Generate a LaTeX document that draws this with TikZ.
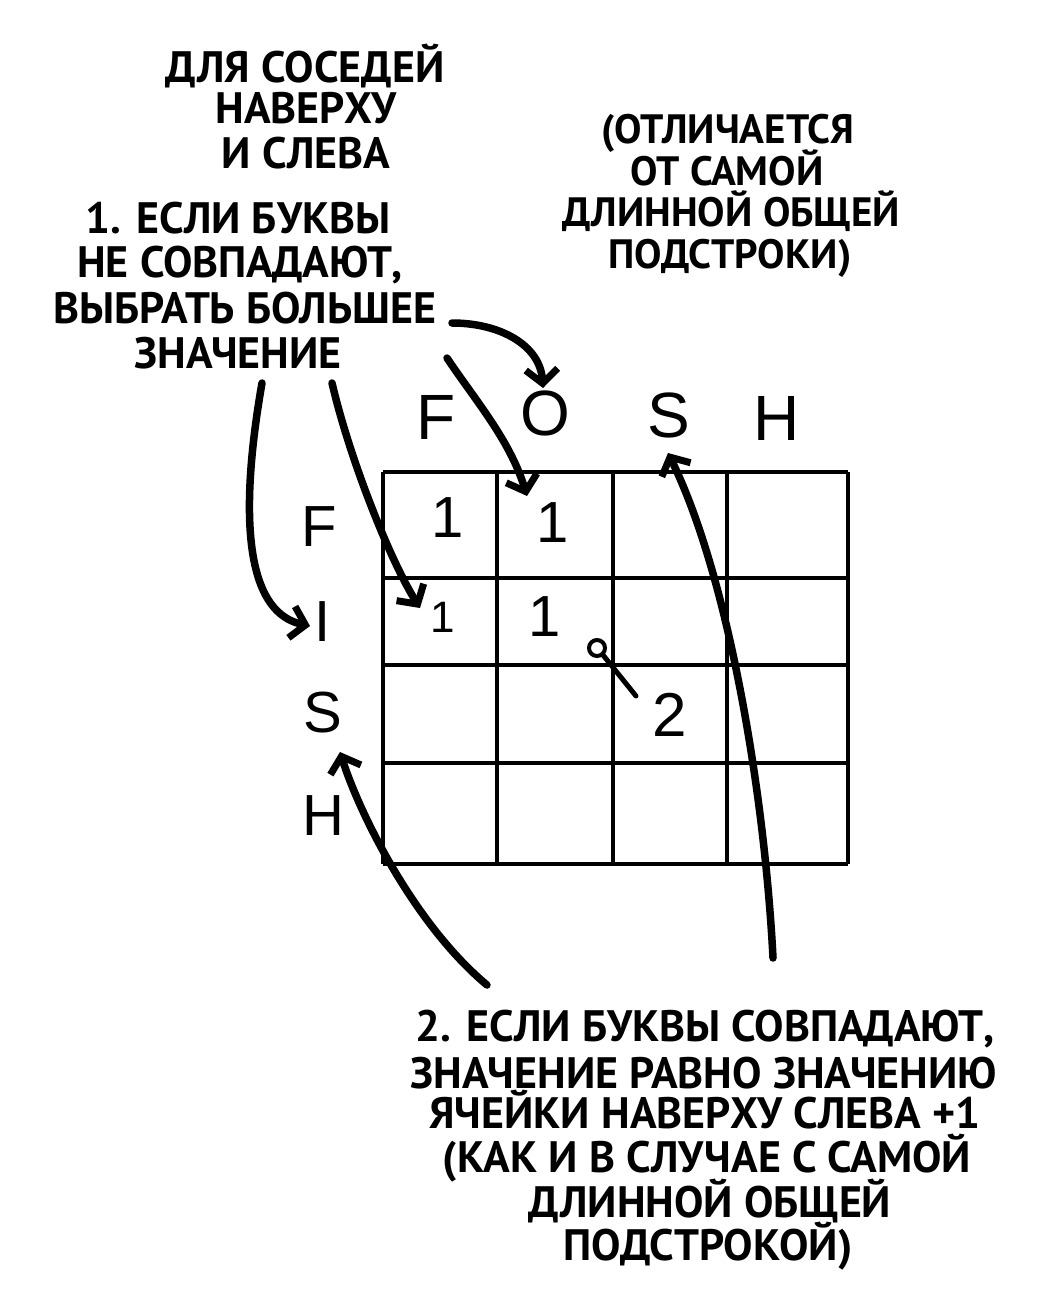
\documentclass[tikz,border=0pt]{standalone}
\usepackage{fontspec}
\setmainfont{PT Sans}
\newfontfamily\handfont{Liberation Sans}
\usetikzlibrary{arrows.meta}
\begin{document}
\begin{tikzpicture}[x=1pt,y=-1pt,
  lbl/.style={font=\fontsize{44}{44}\selectfont\bfseries, anchor=base, inner sep=0pt},
  lbls/.style={font=\fontsize{41}{41}\selectfont\bfseries, anchor=base, inner sep=0pt},
  toplet/.style={font=\handfont\fontsize{64}{64}\selectfont, inner sep=0pt},
  sidelet/.style={font=\handfont\fontsize{58}{58}\selectfont, inner sep=0pt},
  num/.style={font=\handfont\fontsize{58}{58}\selectfont, inner sep=0pt},
  gridline/.style={line width=3.5pt},
  bigarrow/.style={line width=7.5pt, line cap=round,
    -{Straight Barb[length=14pt,width=32pt,line width=7pt]}},
  thinarrow/.style={line width=5pt, line cap=round}
]
\useasboundingbox (0,0) rectangle (1054,1312);

% top-left note
\node[lbl] (tl1) at (305,82) {ДЛЯ СОСЕДЕЙ};
\node[lbl] (tl2) at (306,123) {НАВЕРХУ};
\node[lbl] (tl3) at (306,168) {И СЛЕВА};
% rule 1
\node[lbl] (ra) at (238,233) {1. ЕСЛИ БУКВЫ};
\node[lbl] (rb) at (240,277) {НЕ СОВПАДАЮТ,};
\node[lbl] (rc) at (245,323) {ВЫБРАТЬ БОЛЬШЕЕ};
\node[lbl] (rd) at (238,368) {ЗНАЧЕНИЕ};
% top-right note
\node[lbls] (tr1) at (728,143) {(ОТЛИЧАЕТСЯ};
\node[lbls] (tr2) at (727,185) {ОТ САМОЙ};
\node[lbls] (tr3) at (731,226) {ДЛИННОЙ ОБЩЕЙ};
\node[lbls] (tr4) at (730,268) {ПОДСТРОКИ)};
% rule 2
\node[lbl] (sa) at (705,1041) {2. ЕСЛИ БУКВЫ СОВПАДАЮТ,};
\node[lbl] (sb) at (704,1088) {ЗНАЧЕНИЕ РАВНО ЗНАЧЕНИЮ};
\node[lbl] (sc) at (705,1128) {ЯЧЕЙКИ НАВЕРХУ СЛЕВА +1};
\node[lbl] (sd) at (707,1172) {(КАК И В СЛУЧАЕ С САМОЙ};
\node[lbl] (se) at (710,1217) {ДЛИННОЙ ОБЩЕЙ};
\node[lbl] (sf) at (708,1260) {ПОДСТРОКОЙ)};

% grid
\foreach \x in {383,497,613,727,848} \draw[gridline] (\x,472) -- (\x,864);
\foreach \y in {472,578,665,763,864} \draw[gridline] (383,\y) -- (848,\y);

% column / row letters
\node[toplet] (cF) at (436,417) {F};
\node[toplet] (cO) at (545,413) {O};
\node[toplet] (cS) at (669,415) {S};
\node[toplet] (cH) at (777,418) {H};
\node[sidelet] (rF) at (319,527) {F};
\node[sidelet] (rI) at (323,622) {I};
\node[sidelet] (rS) at (323,713) {S};
\node[sidelet] (rH) at (323,816) {H};

% cell values
\node[num] (v11) at (448,518) {1};
\node[num] (v12) at (553,523) {1};
\node[num, font=\handfont\fontsize{44}{44}\selectfont] (v21) at (443,617) {1};
\node[num] (v22) at (545,617) {1};
\node[num, font=\handfont\fontsize{62}{62}\selectfont] (v33) at (670,715) {2};

% arrow end points
\coordinate (a1s) at (452,323);
\coordinate (a1e) at (543,388);
\coordinate (a2s) at (447,358);
\coordinate (a2e) at (527,496);
\coordinate (a3s) at (332,383);
\coordinate (a3e) at (420,608);
\coordinate (a4s) at (262,383);
\coordinate (a4e) at (310,626);
\coordinate (a5s) at (487,985);
\coordinate (a5e) at (340,752);
\coordinate (a6s) at (773,958);
\coordinate (a6e) at (668,453);
\coordinate (a7s) at (636,696);
\coordinate (a7e) at (603,655);

\draw[bigarrow] (a1s) .. controls (500,323) and (540,345) .. (a1e);
\draw[bigarrow] (a2s) .. controls (475,400) and (510,440) .. (a2e);
\draw[bigarrow] (a3s) .. controls (350,460) and (390,560) .. (a3e);
\draw[bigarrow] (a4s) .. controls (245,480) and (235,610) .. (a4e);
\draw[bigarrow] (a5s) .. controls (415,925) and (360,815) .. (a5e);
\draw[bigarrow] (a6s) .. controls (765,800) and (730,580) .. (a6e);
\draw[thinarrow] (a7s) -- (a7e);
\draw[line width=4pt] (597,648) circle[radius=8];
\end{tikzpicture}
\end{document}
